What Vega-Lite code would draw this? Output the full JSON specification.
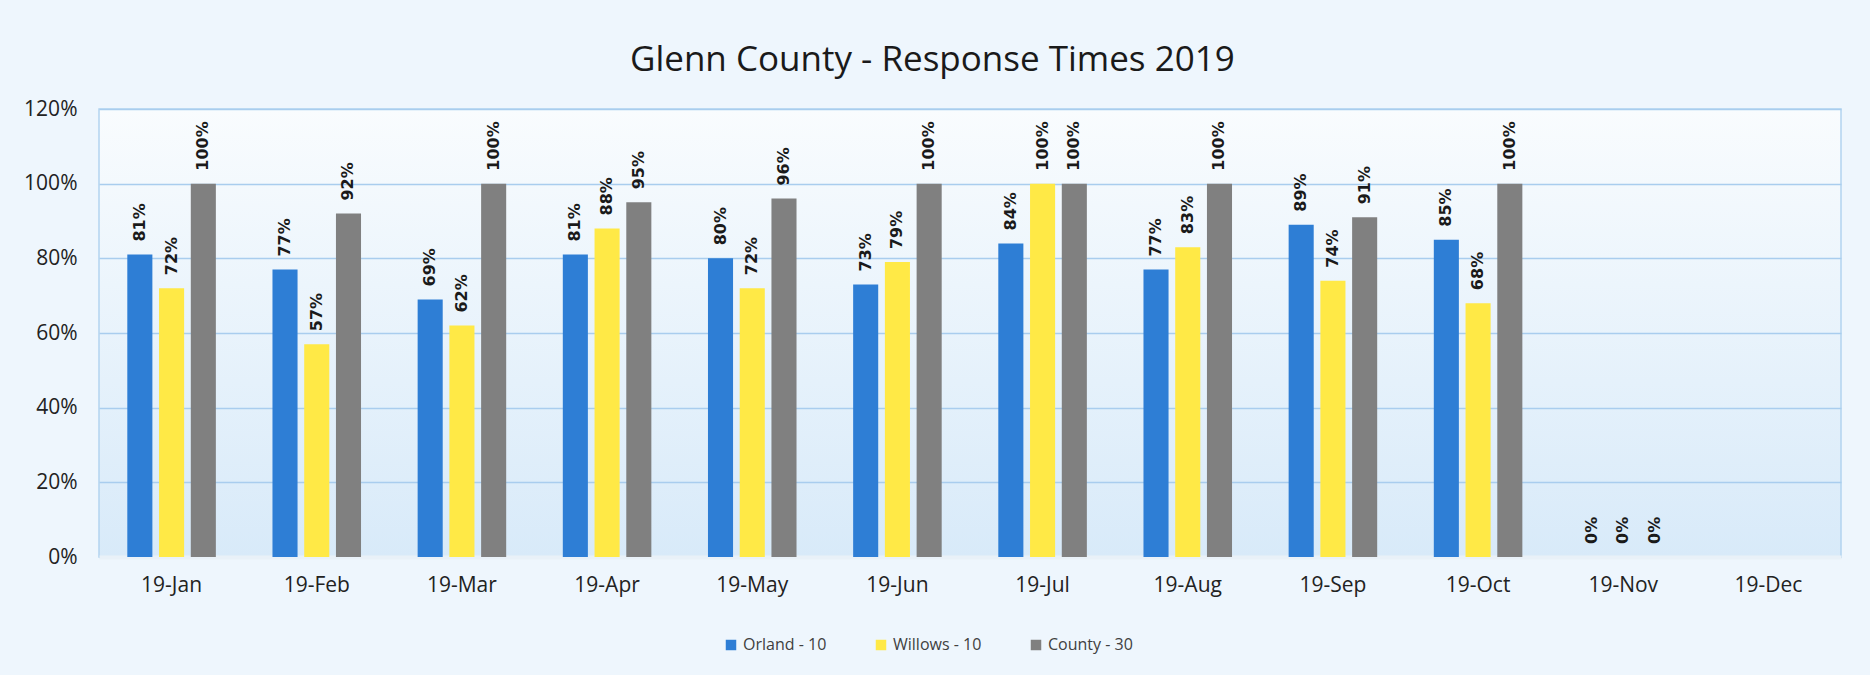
{
  "$schema": "https://vega.github.io/schema/vega-lite/v6.json",
  "autosize": {"type": "none"},
  "width": 1742,
  "height": 448,
  "padding": {"left": 99, "top": 109, "right": 29, "bottom": 118},
  "background": "#eef6fd",
  "title": {
    "text": "Glenn County - Response Times 2019",
    "font": "Open Sans",
    "fontSize": 35,
    "fontWeight": "normal",
    "color": "#1a1a1a",
    "anchor": "middle",
    "frame": "bounds",
    "offset": 20
  },
  "config": {
    "view": {
      "fill": {"gradient": "linear", "x1": 0, "y1": 0, "x2": 0, "y2": 1,
        "stops": [{"offset": 0, "color": "#f9fcfe"}, {"offset": 1, "color": "#d8eaf9"}]},
      "stroke": "#b3d4ef",
      "strokeWidth": 1.5
    },
    "axis": {"labelFont": "Open Sans", "labelColor": "#222222", "labelFontSize": 21}
  },
  "data": {
    "values": [
      {"month": "19-Jan", "series": "Orland - 10", "value": 0.81},
      {"month": "19-Jan", "series": "Willows - 10", "value": 0.72},
      {"month": "19-Jan", "series": "County - 30", "value": 1.00},
      {"month": "19-Feb", "series": "Orland - 10", "value": 0.77},
      {"month": "19-Feb", "series": "Willows - 10", "value": 0.57},
      {"month": "19-Feb", "series": "County - 30", "value": 0.92},
      {"month": "19-Mar", "series": "Orland - 10", "value": 0.69},
      {"month": "19-Mar", "series": "Willows - 10", "value": 0.62},
      {"month": "19-Mar", "series": "County - 30", "value": 1.00},
      {"month": "19-Apr", "series": "Orland - 10", "value": 0.81},
      {"month": "19-Apr", "series": "Willows - 10", "value": 0.88},
      {"month": "19-Apr", "series": "County - 30", "value": 0.95},
      {"month": "19-May", "series": "Orland - 10", "value": 0.80},
      {"month": "19-May", "series": "Willows - 10", "value": 0.72},
      {"month": "19-May", "series": "County - 30", "value": 0.96},
      {"month": "19-Jun", "series": "Orland - 10", "value": 0.73},
      {"month": "19-Jun", "series": "Willows - 10", "value": 0.79},
      {"month": "19-Jun", "series": "County - 30", "value": 1.00},
      {"month": "19-Jul", "series": "Orland - 10", "value": 0.84},
      {"month": "19-Jul", "series": "Willows - 10", "value": 1.00},
      {"month": "19-Jul", "series": "County - 30", "value": 1.00},
      {"month": "19-Aug", "series": "Orland - 10", "value": 0.77},
      {"month": "19-Aug", "series": "Willows - 10", "value": 0.83},
      {"month": "19-Aug", "series": "County - 30", "value": 1.00},
      {"month": "19-Sep", "series": "Orland - 10", "value": 0.89},
      {"month": "19-Sep", "series": "Willows - 10", "value": 0.74},
      {"month": "19-Sep", "series": "County - 30", "value": 0.91},
      {"month": "19-Oct", "series": "Orland - 10", "value": 0.85},
      {"month": "19-Oct", "series": "Willows - 10", "value": 0.68},
      {"month": "19-Oct", "series": "County - 30", "value": 1.00},
      {"month": "19-Nov", "series": "Orland - 10", "value": 0},
      {"month": "19-Nov", "series": "Willows - 10", "value": 0},
      {"month": "19-Nov", "series": "County - 30", "value": 0}
    ]
  },
  "encoding": {
    "x": {
      "field": "month", "type": "nominal", "title": null,
      "scale": {
        "domain": ["19-Jan", "19-Feb", "19-Mar", "19-Apr", "19-May", "19-Jun", "19-Jul", "19-Aug", "19-Sep", "19-Oct", "19-Nov", "19-Dec"],
        "paddingInner": 0.39, "paddingOuter": 0.195
      },
      "axis": {"labelAngle": 0, "ticks": false, "labelPadding": 17, "domainColor": "#e9f1f8", "domainWidth": 4}
    },
    "xOffset": {
      "field": "series", "type": "nominal",
      "scale": {"domain": ["Orland - 10", "Willows - 10", "County - 30"], "paddingInner": 0.21, "paddingOuter": 0}
    },
    "y": {
      "field": "value", "type": "quantitative", "title": null,
      "scale": {"domain": [0, 1.2], "nice": false},
      "axis": {"values": [0, 0.2, 0.4, 0.6, 0.8, 1.0, 1.2], "format": ".0%", "ticks": false, "domain": false, "labelPadding": 22, "gridColor": "#a9cdee", "gridWidth": 1.5}
    }
  },
  "layer": [
    {
      "mark": {"type": "bar"},
      "encoding": {
        "color": {
          "field": "series", "type": "nominal",
          "scale": {"domain": ["Orland - 10", "Willows - 10", "County - 30"], "range": ["#2e7ed5", "#ffe946", "#808080"]},
          "legend": {
            "title": null, "orient": "none", "direction": "horizontal",
            "legendX": 624, "legendY": 528,
            "labelFont": "Open Sans", "labelFontSize": 16, "labelColor": "#404040",
            "symbolType": "square", "symbolSize": 110, "symbolStrokeWidth": 0,
            "columnPadding": 46, "labelOffset": 4
          }
        }
      }
    },
    {
      "mark": {"type": "text", "angle": 270, "align": "left", "baseline": "middle", "dx": 13, "font": "DejaVu Sans", "fontSize": 16, "fontWeight": "bold", "color": "#1a1a1a"},
      "encoding": {
        "text": {"field": "value", "type": "quantitative", "format": ".0%"}
      }
    }
  ]
}
